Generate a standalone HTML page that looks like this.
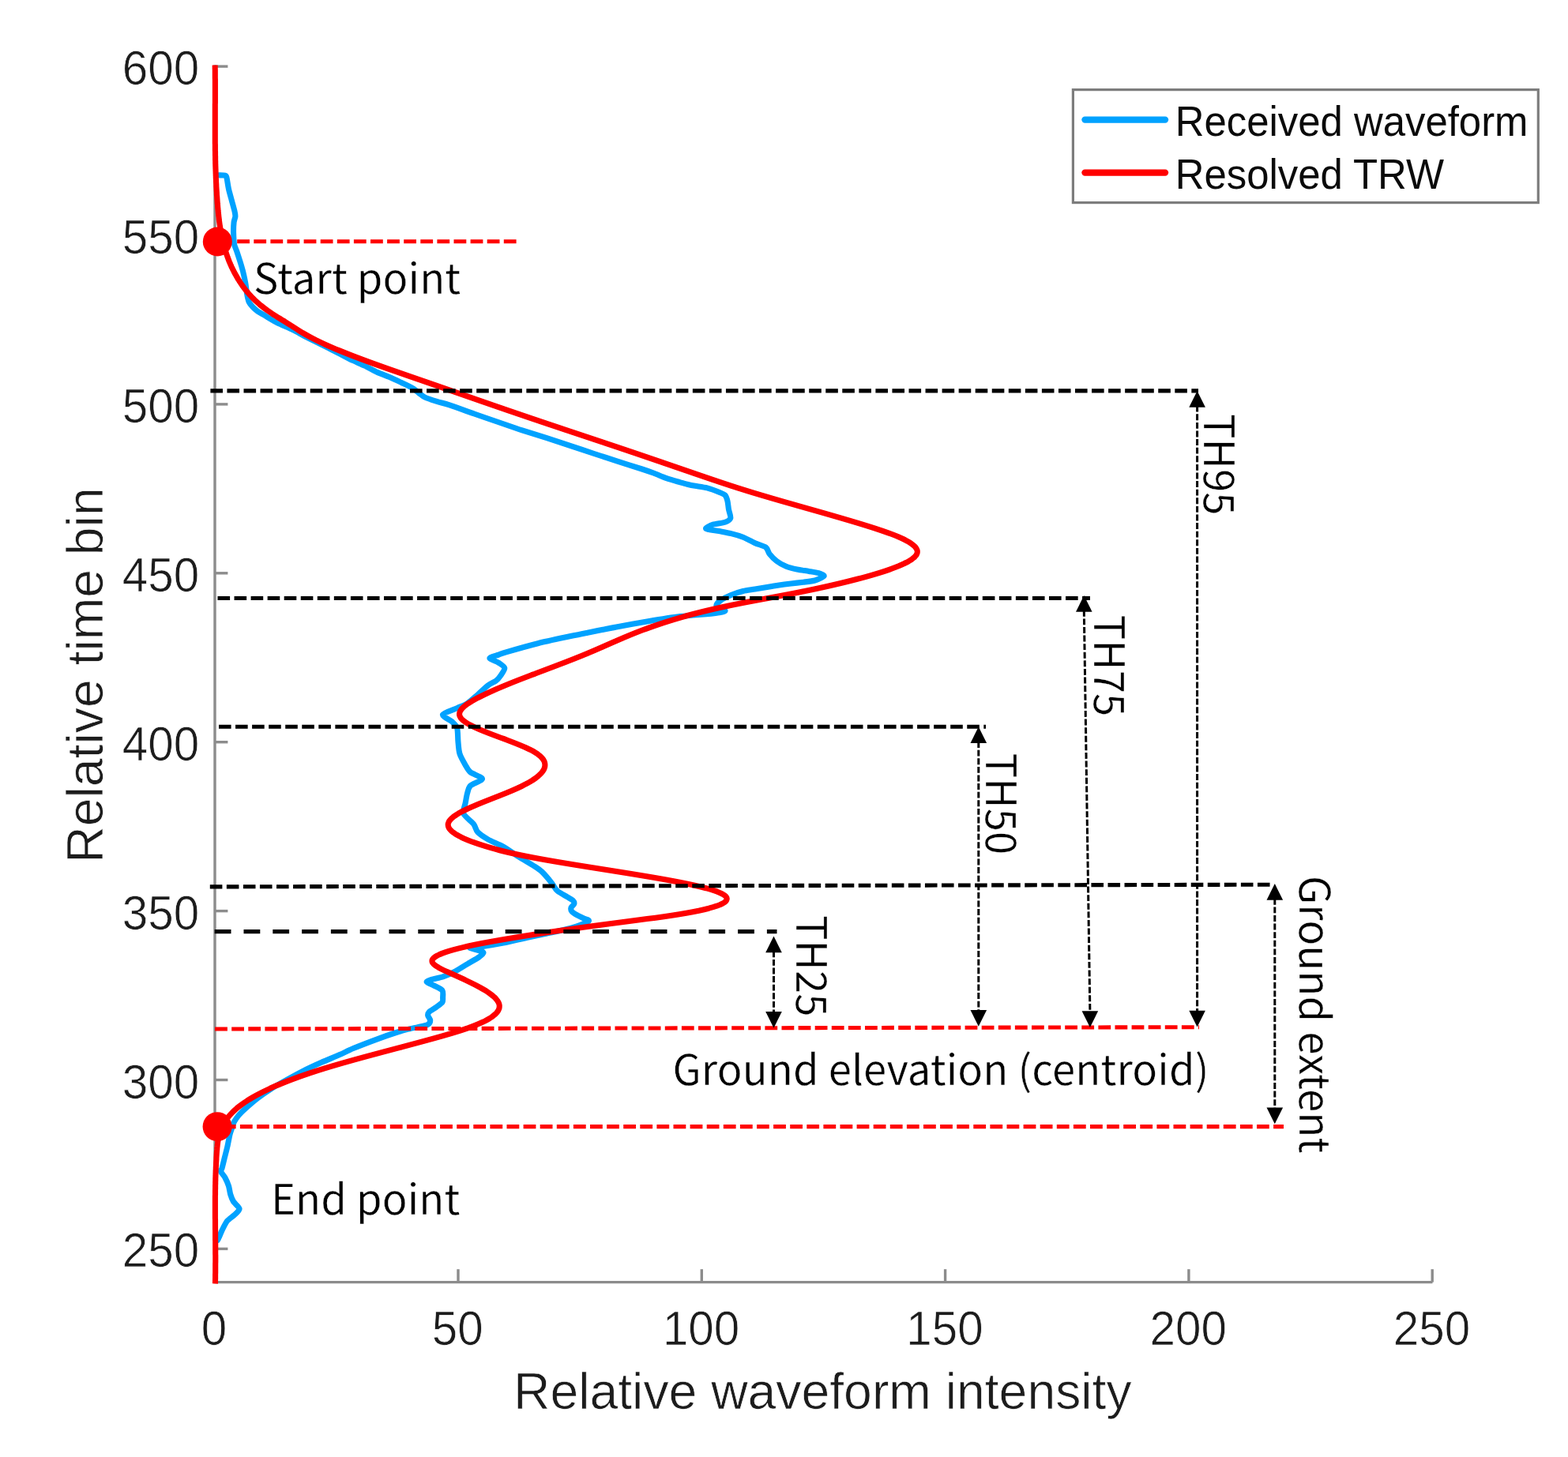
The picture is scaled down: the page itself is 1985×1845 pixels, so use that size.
<!DOCTYPE html>
<html lang="en"><head><meta charset="utf-8"><title>Waveform metrics</title>
<style>
html,body{margin:0;padding:0;background:#fff;}
body{width:1985px;height:1845px;overflow:hidden;}
svg{display:block;}
.tick{font-family:"Liberation Sans",sans-serif;font-size:58.4px;fill:#1c1c1c;stroke:#fff;stroke-width:0.7px;}
.axl{font-family:"Liberation Sans",sans-serif;font-size:64.3px;fill:#1c1c1c;stroke:#fff;stroke-width:0.7px;}
.leg{font-family:"Liberation Sans",sans-serif;font-size:50.9px;fill:#0a0a0a;}
.ann{font-family:"Noto Sans CJK SC","Liberation Sans",sans-serif;font-size:52.6px;fill:#000000;letter-spacing:0.12px;stroke:#fff;stroke-width:0.4px;}
</style></head><body>
<svg width="1985" height="1845" viewBox="0 0 1985 1845">
<rect x="0" y="0" width="1985" height="1845" fill="#ffffff"/>
<g stroke="#8c8c8c" stroke-width="3.4" fill="none" stroke-linecap="butt">
<path d="M272.00 82.20V1623.60H1813.50"/>
<path d="M272.00 84.10h16.40"/>
<path d="M272.00 298.00h16.40"/>
<path d="M272.00 511.90h16.40"/>
<path d="M272.00 725.80h16.40"/>
<path d="M272.00 939.70h16.40"/>
<path d="M272.00 1153.60h16.40"/>
<path d="M272.00 1367.50h16.40"/>
<path d="M272.00 1581.40h16.40"/>
<path d="M580.00 1623.60v-16.40"/>
<path d="M888.30 1623.60v-16.40"/>
<path d="M1196.60 1623.60v-16.40"/>
<path d="M1504.90 1623.60v-16.40"/>
<path d="M1813.20 1623.60v-16.40"/>
</g>
<g class="tick">
<text transform="translate(252.2 107.1) scale(1 1.045)" text-anchor="end">600</text>
<text transform="translate(252.2 321.0) scale(1 1.045)" text-anchor="end">550</text>
<text transform="translate(252.2 534.9) scale(1 1.045)" text-anchor="end">500</text>
<text transform="translate(252.2 748.8) scale(1 1.045)" text-anchor="end">450</text>
<text transform="translate(252.2 962.7) scale(1 1.045)" text-anchor="end">400</text>
<text transform="translate(252.2 1176.6) scale(1 1.045)" text-anchor="end">350</text>
<text transform="translate(252.2 1390.5) scale(1 1.045)" text-anchor="end">300</text>
<text transform="translate(252.2 1604.4) scale(1 1.045)" text-anchor="end">250</text>
<text transform="translate(271.0 1702.6) scale(1 1.045)" text-anchor="middle">0</text>
<text transform="translate(579.3 1702.6) scale(1 1.045)" text-anchor="middle">50</text>
<text transform="translate(887.6 1702.6) scale(1 1.045)" text-anchor="middle">100</text>
<text transform="translate(1195.9 1702.6) scale(1 1.045)" text-anchor="middle">150</text>
<text transform="translate(1504.2 1702.6) scale(1 1.045)" text-anchor="middle">200</text>
<text transform="translate(1812.5 1702.6) scale(1 1.045)" text-anchor="middle">250</text>
</g>
<text class="axl" x="1041.3" y="1784.4" text-anchor="middle">Relative waveform intensity</text>
<text class="axl" transform="translate(130.4 855.0) rotate(-90)" text-anchor="middle">Relative time bin</text>
<path d="M276.5 221.8C277.6 221.9 283.6 221.8 285.0 222.2C286.4 222.6 286.3 222.2 286.9 224.6C287.5 227.0 288.7 236.0 289.6 239.9C290.5 243.8 292.3 250.0 293.3 253.7C294.3 257.4 296.4 264.8 297.0 267.5C297.6 270.2 298.0 272.2 297.9 274.0C297.8 275.8 296.4 278.5 296.1 281.3C295.8 284.1 295.5 291.5 295.6 295.2C295.7 298.9 296.0 305.9 296.5 309.0C297.0 312.1 298.5 314.6 299.7 318.2C300.9 321.8 304.3 332.3 305.5 336.3C306.7 340.3 308.0 345.2 308.7 348.4C309.4 351.6 310.6 357.3 311.1 360.5C311.6 363.7 312.2 369.6 312.7 372.5C313.2 375.4 314.1 380.0 315.1 382.2C316.1 384.4 318.5 387.1 320.0 388.7C321.5 390.3 324.5 392.9 326.4 394.3C328.3 395.7 332.4 397.8 334.5 399.1C336.6 400.4 340.2 402.6 342.5 404.0C344.8 405.4 348.2 407.5 352.0 409.3C355.8 411.1 366.4 415.5 371.0 417.7C375.6 419.9 382.1 423.9 386.2 426.0C390.3 428.1 397.3 431.6 401.4 433.6C405.5 435.6 412.6 439.2 416.6 441.2C420.6 443.2 427.7 446.7 431.7 448.8C435.7 450.9 442.8 454.7 446.9 456.6C451.0 458.5 458.0 461.4 462.1 463.4C466.2 465.4 473.3 469.4 477.3 471.3C481.3 473.2 488.4 475.6 492.4 477.3C496.4 479.0 503.5 482.3 507.6 484.2C511.7 486.1 519.8 489.9 522.8 491.7C525.8 493.5 528.4 496.3 530.4 497.8C532.4 499.3 535.0 501.7 538.0 503.1C541.0 504.5 549.0 507.1 553.1 508.4C557.2 509.7 562.7 510.8 569.0 512.9C575.3 515.0 592.1 521.1 600.3 524.0C608.5 526.9 622.6 531.7 630.7 534.5C638.8 537.3 652.9 542.3 661.0 544.9C669.1 547.5 683.3 551.7 691.4 554.3C699.5 556.9 713.6 561.7 721.7 564.4C729.8 567.1 744.0 571.8 752.1 574.5C760.2 577.2 774.3 581.7 782.4 584.3C790.5 586.9 806.7 592.0 812.8 594.0C818.9 596.0 824.0 597.8 828.0 599.3C832.0 600.8 839.1 604.0 843.1 605.4C847.1 606.8 854.7 609.0 858.3 610.0C861.9 611.0 867.1 612.5 870.0 613.2C872.9 613.9 876.6 614.7 880.0 615.3C883.4 615.9 891.2 616.8 895.2 617.9C899.2 619.0 907.3 622.0 910.3 623.2C913.3 624.4 916.5 625.5 917.9 627.0C919.3 628.5 920.4 632.2 921.0 634.6C921.6 637.0 922.0 642.4 922.5 645.2C923.0 648.0 925.4 653.8 924.8 655.9C924.2 658.0 920.8 660.1 917.9 661.2C915.0 662.3 906.0 663.1 902.8 664.2C899.6 665.3 892.7 668.4 893.7 669.5C894.7 670.6 906.1 671.8 910.3 672.6C914.5 673.4 921.4 674.6 925.5 675.6C929.6 676.6 936.6 678.6 940.7 680.2C944.8 681.8 952.1 686.0 955.9 687.7C959.7 689.4 967.1 691.3 969.5 693.1C971.9 694.9 972.3 699.1 974.1 701.4C975.9 703.7 980.4 708.4 983.2 710.5C986.0 712.6 991.9 715.9 995.3 717.3C998.7 718.7 1005.1 720.3 1009.0 721.1C1012.9 721.9 1020.6 722.8 1024.2 723.4C1027.8 724.0 1033.8 724.9 1036.3 725.7C1038.8 726.5 1043.7 728.3 1043.1 729.5C1042.5 730.7 1035.2 734.0 1031.7 735.0C1028.2 736.0 1020.6 736.7 1016.6 737.2C1012.6 737.7 1005.5 738.5 1001.4 739.0C997.3 739.5 990.3 740.4 986.2 741.0C982.1 741.6 975.0 742.8 971.0 743.5C967.0 744.2 959.9 745.3 955.9 746.0C951.9 746.7 944.8 747.5 940.7 748.5C936.6 749.5 929.3 751.9 925.5 753.5C921.7 755.1 914.5 758.7 912.0 760.5C909.5 762.3 906.2 765.3 907.0 767.0C907.8 768.7 917.6 772.1 918.0 773.3C918.4 774.5 912.7 775.3 910.3 775.8C907.9 776.3 906.6 776.6 900.0 777.2C893.4 777.8 871.5 779.3 860.9 780.6C850.3 781.9 831.3 785.0 820.6 786.8C809.9 788.6 791.0 792.0 780.3 794.0C769.6 796.0 747.9 800.5 740.0 802.1C732.1 803.7 729.1 804.1 721.2 805.8C713.3 807.5 691.6 812.0 680.9 814.7C670.2 817.4 647.2 823.9 640.6 825.8C634.0 827.7 634.0 828.1 631.2 829.1C628.4 830.1 619.9 832.1 619.9 833.4C619.9 834.7 628.7 837.5 631.2 839.2C633.7 840.9 638.5 843.8 638.8 846.0C639.1 848.2 635.1 853.5 633.7 855.6C632.3 857.7 630.1 860.4 628.0 862.0C625.9 863.6 621.0 865.6 617.9 867.9C614.8 870.2 608.3 876.6 604.8 879.6C601.3 882.6 595.2 888.4 591.7 890.7C588.2 893.0 582.8 894.8 578.6 896.7C574.4 898.6 561.4 902.6 560.5 904.9C559.6 907.2 569.6 911.5 572.0 913.7C574.4 915.9 577.5 918.3 578.6 921.6C579.7 924.9 579.5 934.2 579.9 938.6C580.3 943.0 580.7 950.3 581.9 954.3C583.1 958.3 587.3 965.6 589.1 968.7C590.9 971.8 592.7 975.6 595.6 977.9C598.5 980.2 610.5 983.9 610.5 986.2C610.5 988.5 598.1 992.5 595.6 994.9C593.1 997.3 592.6 1001.1 591.7 1004.1C590.8 1007.1 589.8 1013.7 589.1 1017.2C588.4 1020.7 585.4 1026.8 586.8 1030.3C588.2 1033.8 597.1 1040.3 599.5 1043.4C601.9 1046.5 602.3 1051.2 604.8 1053.8C607.3 1056.4 613.5 1060.5 617.9 1063.0C622.3 1065.5 632.3 1069.2 637.5 1072.2C642.7 1075.2 652.2 1082.1 657.2 1085.3C662.2 1088.5 671.4 1093.6 675.2 1096.1C679.0 1098.6 682.8 1100.9 685.8 1103.7C688.8 1106.5 695.3 1114.2 697.9 1117.4C700.5 1120.6 702.9 1125.6 705.5 1128.0C708.1 1130.4 715.1 1134.0 717.7 1135.6C720.3 1137.2 724.1 1139.0 725.3 1140.2C726.5 1141.4 727.1 1143.5 726.8 1144.7C726.5 1145.9 723.4 1148.1 723.0 1149.3C722.6 1150.5 722.8 1152.6 723.7 1153.8C724.6 1155.0 727.8 1157.2 729.8 1158.4C731.8 1159.6 736.9 1161.8 738.9 1162.9C740.9 1164.0 747.3 1165.0 745.0 1166.7C742.7 1168.4 729.3 1173.4 722.0 1175.5C714.7 1177.6 697.3 1180.9 690.0 1182.5C682.7 1184.1 674.6 1185.8 667.6 1187.3C660.6 1188.8 645.4 1192.5 637.3 1194.1C629.2 1195.7 612.6 1198.4 606.9 1199.2C601.2 1200.0 594.2 1199.6 594.8 1200.4C595.4 1201.2 609.9 1204.0 611.5 1205.5C613.1 1207.0 609.5 1209.6 606.9 1211.6C604.3 1213.6 595.7 1218.3 591.7 1220.7C587.7 1223.1 580.6 1227.7 576.6 1229.8C572.6 1231.9 565.5 1235.2 561.4 1236.6C557.3 1238.0 549.0 1239.5 546.2 1240.4C543.4 1241.3 539.8 1242.5 540.2 1243.5C540.6 1244.5 546.7 1246.6 549.3 1248.0C551.9 1249.4 558.4 1252.1 559.9 1254.1C561.4 1256.1 560.6 1261.2 560.6 1263.2C560.6 1265.2 561.0 1267.7 559.9 1269.3C558.8 1270.9 554.5 1273.7 552.3 1275.3C550.1 1276.9 544.6 1280.0 543.2 1281.4C541.8 1282.8 541.5 1284.6 541.7 1286.0C541.9 1287.4 544.7 1290.5 544.7 1292.0C544.7 1293.5 543.8 1296.2 541.7 1297.3C539.6 1298.4 532.6 1299.8 529.0 1300.6C525.4 1301.4 518.9 1302.6 515.0 1303.6C511.1 1304.6 505.0 1306.4 500.0 1308.0C495.0 1309.6 484.6 1313.2 477.6 1315.8C470.6 1318.4 453.6 1324.9 447.3 1327.5C441.0 1330.1 435.4 1333.2 430.0 1335.6C424.6 1338.0 413.3 1342.5 407.0 1345.3C400.7 1348.1 389.2 1353.4 382.9 1356.6C376.6 1359.8 365.4 1366.0 360.0 1369.0C354.6 1372.0 347.0 1376.3 342.5 1379.2C338.0 1382.1 330.7 1387.2 326.4 1390.5C322.1 1393.8 313.5 1401.3 310.3 1404.2C307.1 1407.1 304.0 1410.1 302.2 1412.2C300.4 1414.3 297.7 1418.4 296.6 1420.3C295.5 1422.2 294.9 1424.5 294.2 1426.7C293.5 1428.9 291.8 1433.3 291.0 1436.6C290.2 1439.9 288.8 1447.7 287.9 1451.7C287.0 1455.7 285.0 1463.2 284.1 1466.9C283.2 1470.6 281.7 1476.9 281.1 1479.1C280.5 1481.3 279.1 1482.0 279.6 1483.6C280.1 1485.2 283.6 1488.8 284.9 1491.2C286.2 1493.6 288.6 1499.0 289.5 1501.8C290.4 1504.6 290.9 1509.8 291.7 1512.4C292.5 1515.0 294.0 1519.1 295.5 1521.5C297.0 1523.9 302.9 1528.5 303.1 1530.7C303.3 1532.9 299.0 1536.2 297.0 1538.2C295.0 1540.2 289.8 1543.6 287.9 1545.8C286.0 1548.0 283.7 1552.8 282.6 1554.9C281.5 1557.0 280.2 1559.9 279.5 1561.5C278.8 1563.1 277.7 1565.8 277.2 1567.0C276.7 1568.2 275.7 1570.0 275.5 1570.5" fill="none" stroke="#00a2ff" stroke-width="7.1" stroke-linejoin="round" stroke-linecap="round"/>
<path d="M272.2 82.5L272.2 84.0L272.2 85.5L272.2 87.0L272.3 88.5L272.3 90.0L272.3 91.5L272.3 93.0L272.3 94.5L272.3 96.0L272.3 97.5L272.3 99.0L272.4 100.5L272.4 102.0L272.4 103.5L272.4 105.0L272.4 106.5L272.4 108.0L272.4 109.5L272.4 111.0L272.4 112.5L272.4 114.0L272.4 115.5L272.4 117.0L272.4 118.5L272.4 120.0L272.4 121.5L272.4 123.0L272.4 124.5L272.4 126.0L272.4 127.5L272.4 129.0L272.4 130.5L272.3 132.0L272.3 133.5L272.3 135.0L272.3 136.5L272.3 138.0L272.3 139.5L272.3 141.0L272.3 142.5L272.3 144.0L272.3 145.5L272.3 147.0L272.3 148.5L272.3 150.0L272.3 151.5L272.3 153.0L272.3 154.5L272.3 156.0L272.3 157.5L272.3 159.0L272.3 160.5L272.3 162.0L272.3 163.5L272.3 165.0L272.3 166.5L272.3 168.0L272.3 169.5L272.3 171.0L272.3 172.5L272.3 174.0L272.3 175.5L272.3 177.0L272.3 178.5L272.3 180.0L272.3 181.5L272.4 183.0L272.4 184.5L272.4 186.0L272.4 187.5L272.4 189.0L272.4 190.5L272.5 192.0L272.5 193.5L272.5 195.0L272.5 196.5L272.6 198.0L272.6 199.5L272.6 201.0L272.6 202.5L272.7 204.0L272.7 205.5L272.7 207.0L272.8 208.5L272.8 210.0L272.9 211.5L272.9 213.0L273.0 214.5L273.0 216.0L273.1 217.5L273.1 219.0L273.2 220.5L273.2 222.0L273.3 223.5L273.3 225.0L273.4 226.5L273.5 228.0L273.5 229.5L273.6 231.0L273.7 232.5L273.8 234.0L273.8 235.5L273.9 236.9L274.0 238.4L274.1 239.9L274.2 241.4L274.3 242.9L274.4 244.4L274.4 245.9L274.5 247.4L274.7 248.9L274.8 250.4L274.9 251.9L275.0 253.4L275.1 254.9L275.2 256.4L275.3 257.9L275.5 259.4L275.6 260.9L275.7 262.4L275.8 263.9L276.0 265.4L276.1 266.9L276.3 268.4L276.4 269.9L276.6 271.4L276.7 272.9L276.9 274.4L277.1 275.9L277.2 277.4L277.4 278.9L277.6 280.4L277.8 281.9L278.0 283.4L278.2 284.9L278.5 286.4L278.7 287.9L278.9 289.4L279.2 290.9L279.4 292.4L279.7 293.9L280.0 295.4L280.2 296.9L280.5 298.4L280.8 299.9L281.2 301.4L281.5 302.9L281.8 304.4L282.2 305.9L282.6 307.4L282.9 308.9L283.3 310.4L283.7 311.9L284.1 313.4L284.6 314.9L285.0 316.4L285.5 317.9L286.0 319.4L286.4 320.9L287.0 322.4L287.5 323.9L288.0 325.4L288.6 326.9L289.1 328.4L289.7 329.9L290.3 331.4L291.0 332.9L291.6 334.4L292.3 335.9L292.9 337.4L293.6 338.9L294.4 340.4L295.1 341.9L295.9 343.4L296.6 344.9L297.4 346.4L298.3 347.9L299.1 349.4L300.0 350.9L300.8 352.4L301.7 353.9L302.7 355.4L303.6 356.9L304.6 358.4L305.6 359.9L306.6 361.4L307.7 362.9L308.8 364.4L309.9 365.9L311.1 367.4L312.3 368.9L313.6 370.4L314.8 371.9L316.2 373.4L317.6 374.9L319.0 376.4L320.4 377.9L322.0 379.4L323.5 380.9L325.2 382.4L326.9 383.9L328.6 385.4L330.4 386.9L332.3 388.4L334.2 389.9L336.2 391.4L338.2 392.9L340.4 394.4L342.6 395.9L344.8 397.4L347.2 398.9L349.5 400.4L351.9 401.9L354.4 403.4L356.8 404.9L359.3 406.4L361.7 407.9L364.1 409.4L366.5 410.9L368.8 412.4L371.2 413.9L373.5 415.4L375.8 416.9L378.2 418.4L380.6 419.9L383.0 421.4L385.6 422.9L388.2 424.4L390.9 425.9L393.7 427.4L396.6 428.9L399.5 430.4L402.6 431.9L405.7 433.4L408.9 434.9L412.2 436.4L415.6 437.9L419.0 439.4L422.5 440.9L426.0 442.4L429.6 443.9L433.3 445.4L437.0 446.9L440.8 448.4L444.6 449.9L448.5 451.4L452.5 452.9L456.4 454.4L460.5 455.9L464.5 457.4L468.6 458.9L472.7 460.4L476.9 461.9L481.1 463.4L485.3 464.9L489.5 466.4L493.8 467.9L498.1 469.4L502.4 470.9L506.7 472.4L511.0 473.9L515.3 475.4L519.6 476.9L524.0 478.4L528.3 479.9L532.7 481.4L537.0 482.9L541.3 484.4L545.7 485.9L550.0 487.4L554.3 488.9L558.6 490.4L562.9 491.9L567.2 493.4L571.5 494.9L575.9 496.4L580.2 497.9L584.5 499.4L588.8 500.9L593.1 502.4L597.4 503.9L601.7 505.4L606.0 506.9L610.3 508.4L614.7 509.9L619.0 511.4L623.3 512.9L627.7 514.4L632.0 515.9L636.4 517.4L640.7 518.9L645.1 520.4L649.5 521.9L653.9 523.4L658.3 524.9L662.7 526.4L667.1 527.9L671.5 529.4L675.9 530.9L680.4 532.4L684.8 533.9L689.3 535.4L693.7 536.9L698.2 538.4L702.7 539.9L707.2 541.4L711.6 542.9L716.1 544.4L720.6 545.8L725.1 547.3L729.6 548.8L734.1 550.3L738.6 551.8L743.1 553.3L747.6 554.8L752.1 556.3L756.6 557.8L761.1 559.3L765.5 560.8L770.0 562.3L774.5 563.8L779.0 565.3L783.5 566.8L787.9 568.3L792.4 569.8L796.8 571.3L801.3 572.8L805.7 574.3L810.1 575.8L814.5 577.3L818.9 578.8L823.3 580.3L827.7 581.8L832.1 583.3L836.5 584.8L840.8 586.3L845.2 587.8L849.6 589.3L853.9 590.8L858.3 592.3L862.7 593.8L867.0 595.3L871.4 596.8L875.8 598.3L880.1 599.8L884.5 601.3L888.9 602.8L893.3 604.3L897.7 605.8L902.1 607.3L906.6 608.8L911.0 610.3L915.5 611.8L920.1 613.3L924.6 614.8L929.3 616.3L933.9 617.8L938.7 619.3L943.5 620.8L948.3 622.3L953.2 623.8L958.2 625.3L963.2 626.8L968.3 628.3L973.4 629.8L978.5 631.3L983.7 632.8L988.9 634.3L994.1 635.8L999.4 637.3L1004.7 638.8L1009.9 640.3L1015.2 641.8L1020.5 643.3L1025.8 644.8L1031.1 646.3L1036.4 647.8L1041.7 649.3L1046.9 650.8L1052.1 652.3L1057.3 653.8L1062.5 655.3L1067.6 656.8L1072.7 658.3L1077.8 659.8L1082.8 661.3L1087.8 662.8L1092.7 664.3L1097.5 665.8L1102.3 667.3L1107.0 668.8L1111.5 670.3L1116.0 671.8L1120.3 673.3L1124.5 674.8L1128.5 676.3L1132.4 677.8L1136.1 679.3L1139.5 680.8L1142.8 682.3L1145.9 683.8L1148.7 685.3L1151.2 686.8L1153.5 688.3L1155.6 689.8L1157.3 691.3L1158.8 692.8L1159.9 694.3L1160.7 695.8L1161.2 697.3L1161.3 698.8L1161.1 700.3L1160.5 701.8L1159.6 703.3L1158.3 704.8L1156.7 706.3L1154.8 707.8L1152.7 709.3L1150.2 710.8L1147.4 712.3L1144.4 713.8L1141.1 715.3L1137.6 716.8L1133.8 718.3L1129.8 719.8L1125.6 721.3L1121.2 722.8L1116.6 724.3L1111.7 725.8L1106.7 727.3L1101.6 728.8L1096.3 730.3L1090.8 731.8L1085.2 733.3L1079.4 734.8L1073.5 736.3L1067.4 737.8L1061.1 739.3L1054.7 740.8L1048.2 742.3L1041.4 743.8L1034.5 745.3L1027.5 746.8L1020.2 748.3L1012.8 749.8L1005.2 751.3L997.5 752.8L989.5 754.3L981.5 755.8L973.4 757.3L965.2 758.8L957.2 760.3L949.2 761.8L941.3 763.3L933.7 764.8L926.3 766.3L919.2 767.8L912.2 769.3L905.5 770.8L899.0 772.3L892.7 773.8L886.6 775.3L880.7 776.8L874.9 778.3L869.3 779.8L863.9 781.3L858.7 782.8L853.6 784.3L848.7 785.8L843.9 787.3L839.2 788.8L834.7 790.3L830.3 791.8L826.0 793.3L821.8 794.8L817.7 796.3L813.7 797.8L809.8 799.3L806.0 800.8L802.2 802.3L798.5 803.8L794.9 805.3L791.3 806.8L787.8 808.3L784.3 809.8L780.8 811.3L777.4 812.8L773.9 814.3L770.5 815.8L767.1 817.3L763.7 818.8L760.3 820.3L756.8 821.8L753.4 823.3L749.9 824.8L746.3 826.3L742.8 827.8L739.1 829.3L735.5 830.8L731.7 832.3L728.0 833.8L724.2 835.3L720.3 836.8L716.5 838.3L712.6 839.8L708.6 841.3L704.7 842.8L700.8 844.3L696.8 845.8L692.8 847.3L688.9 848.8L684.9 850.3L680.9 851.8L677.0 853.3L673.0 854.7L669.1 856.2L665.2 857.7L661.3 859.2L657.4 860.7L653.6 862.2L649.8 863.7L646.1 865.2L642.4 866.7L638.8 868.2L635.2 869.7L631.6 871.2L628.1 872.7L624.7 874.2L621.4 875.7L618.1 877.2L614.9 878.7L611.8 880.2L608.8 881.7L605.8 883.2L603.0 884.7L600.3 886.2L597.6 887.7L595.2 889.2L592.8 890.7L590.7 892.2L588.7 893.7L587.0 895.2L585.4 896.7L584.1 898.2L583.1 899.7L582.3 901.2L581.8 902.7L581.6 904.2L581.7 905.7L582.2 907.2L583.0 908.7L584.2 910.2L585.7 911.7L587.5 913.2L589.6 914.7L592.0 916.2L594.6 917.7L597.5 919.2L600.5 920.7L603.8 922.2L607.2 923.7L610.8 925.2L614.5 926.7L618.3 928.2L622.2 929.7L626.1 931.2L630.1 932.7L634.1 934.2L638.2 935.7L642.2 937.2L646.1 938.7L650.0 940.2L653.8 941.7L657.5 943.2L661.1 944.7L664.6 946.2L667.8 947.7L670.9 949.2L673.8 950.7L676.5 952.2L678.9 953.7L681.0 955.2L682.9 956.7L684.6 958.2L686.1 959.7L687.3 961.2L688.2 962.7L689.0 964.2L689.5 965.7L689.8 967.2L689.9 968.7L689.8 970.2L689.5 971.7L689.0 973.2L688.3 974.7L687.4 976.2L686.3 977.7L685.0 979.2L683.6 980.7L681.9 982.2L680.1 983.7L678.2 985.2L676.0 986.7L673.8 988.2L671.3 989.7L668.7 991.2L666.0 992.7L663.1 994.2L660.1 995.7L656.9 997.2L653.6 998.7L650.2 1000.2L646.7 1001.7L643.1 1003.2L639.5 1004.7L635.7 1006.2L632.0 1007.7L628.1 1009.2L624.3 1010.7L620.5 1012.2L616.7 1013.7L612.9 1015.2L609.2 1016.7L605.5 1018.2L602.0 1019.7L598.5 1021.2L595.1 1022.7L591.8 1024.2L588.7 1025.7L585.7 1027.2L582.9 1028.7L580.2 1030.2L577.8 1031.7L575.6 1033.2L573.6 1034.7L571.8 1036.2L570.3 1037.7L569.1 1039.2L568.2 1040.7L567.6 1042.2L567.2 1043.7L567.3 1045.2L567.6 1046.7L568.2 1048.2L569.2 1049.7L570.5 1051.2L572.0 1052.7L573.9 1054.2L576.0 1055.7L578.4 1057.2L581.1 1058.7L584.0 1060.2L587.2 1061.7L590.7 1063.2L594.4 1064.7L598.3 1066.2L602.5 1067.7L606.9 1069.2L611.6 1070.7L616.4 1072.2L621.5 1073.7L626.9 1075.2L632.6 1076.7L638.6 1078.2L644.9 1079.7L651.6 1081.2L658.6 1082.7L666.0 1084.2L673.7 1085.7L681.7 1087.2L690.0 1088.7L698.6 1090.2L707.4 1091.7L716.4 1093.2L725.5 1094.7L734.8 1096.2L744.1 1097.7L753.6 1099.2L763.0 1100.7L772.5 1102.2L781.9 1103.7L791.3 1105.2L800.6 1106.7L809.7 1108.2L818.7 1109.7L827.6 1111.2L836.2 1112.7L844.6 1114.2L852.7 1115.7L860.5 1117.2L867.9 1118.7L875.0 1120.2L881.7 1121.7L888.0 1123.2L893.8 1124.7L899.1 1126.2L903.8 1127.7L908.1 1129.2L911.7 1130.7L914.8 1132.2L917.2 1133.7L918.9 1135.2L919.9 1136.7L920.2 1138.2L919.8 1139.7L918.8 1141.2L917.0 1142.7L914.5 1144.2L911.3 1145.7L907.4 1147.2L902.7 1148.7L897.4 1150.2L891.3 1151.7L884.6 1153.2L877.0 1154.7L868.8 1156.2L859.9 1157.7L850.4 1159.2L840.4 1160.7L829.9 1162.2L819.1 1163.6L808.0 1165.1L796.7 1166.6L785.3 1168.1L773.8 1169.6L762.4 1171.1L751.2 1172.6L740.1 1174.1L729.3 1175.6L718.7 1177.1L708.3 1178.6L698.1 1180.1L688.1 1181.6L678.3 1183.1L668.7 1184.6L659.3 1186.1L650.1 1187.6L641.1 1189.1L632.3 1190.6L623.8 1192.1L615.5 1193.6L607.6 1195.1L600.1 1196.6L592.9 1198.1L586.2 1199.6L580.0 1201.1L574.3 1202.6L569.0 1204.1L564.3 1205.6L560.1 1207.1L556.5 1208.6L553.4 1210.1L550.9 1211.6L549.0 1213.1L547.7 1214.6L547.0 1216.1L547.0 1217.6L547.6 1219.1L548.8 1220.6L550.5 1222.1L552.6 1223.6L555.0 1225.1L557.8 1226.6L560.8 1228.1L564.0 1229.6L567.3 1231.1L570.6 1232.6L573.9 1234.1L577.2 1235.6L580.5 1237.1L583.8 1238.6L587.1 1240.1L590.3 1241.6L593.4 1243.1L596.5 1244.6L599.5 1246.1L602.5 1247.6L605.3 1249.1L608.1 1250.6L610.7 1252.1L613.3 1253.6L615.7 1255.1L618.0 1256.6L620.1 1258.1L622.1 1259.6L624.0 1261.1L625.7 1262.6L627.2 1264.1L628.5 1265.6L629.7 1267.1L630.6 1268.6L631.4 1270.1L631.9 1271.6L632.2 1273.1L632.2 1274.6L632.1 1276.1L631.7 1277.6L631.0 1279.1L630.1 1280.6L629.0 1282.1L627.6 1283.6L626.0 1285.1L624.2 1286.6L622.1 1288.1L619.8 1289.6L617.2 1291.1L614.5 1292.6L611.5 1294.1L608.2 1295.6L604.7 1297.1L601.0 1298.6L597.1 1300.1L593.0 1301.6L588.6 1303.1L584.1 1304.6L579.4 1306.1L574.5 1307.6L569.5 1309.1L564.3 1310.6L559.1 1312.1L553.8 1313.6L548.4 1315.1L542.9 1316.6L537.4 1318.1L531.9 1319.6L526.3 1321.1L520.7 1322.6L515.1 1324.1L509.5 1325.6L503.8 1327.1L498.1 1328.6L492.5 1330.1L486.8 1331.6L481.2 1333.1L475.6 1334.6L470.0 1336.1L464.4 1337.6L458.9 1339.1L453.4 1340.6L448.0 1342.1L442.6 1343.6L437.3 1345.1L432.0 1346.6L426.8 1348.1L421.7 1349.6L416.7 1351.1L411.7 1352.6L406.9 1354.1L402.1 1355.6L397.5 1357.1L392.9 1358.6L388.5 1360.1L384.1 1361.6L379.8 1363.1L375.7 1364.6L371.6 1366.1L367.6 1367.6L363.7 1369.1L359.9 1370.6L356.2 1372.1L352.6 1373.6L349.1 1375.1L345.7 1376.6L342.3 1378.1L339.1 1379.6L336.0 1381.1L332.9 1382.6L330.0 1384.1L327.1 1385.6L324.3 1387.1L321.6 1388.6L319.0 1390.1L316.5 1391.6L314.1 1393.1L311.8 1394.6L309.5 1396.1L307.4 1397.6L305.3 1399.1L303.3 1400.6L301.4 1402.1L299.6 1403.6L297.9 1405.1L296.3 1406.6L294.7 1408.1L293.3 1409.6L291.9 1411.1L290.5 1412.6L289.3 1414.1L288.1 1415.6L287.0 1417.1L286.0 1418.6L285.0 1420.1L284.0 1421.6L283.2 1423.1L282.4 1424.6L281.6 1426.1L280.9 1427.6L280.3 1429.1L279.7 1430.6L279.1 1432.1L278.6 1433.6L278.1 1435.1L277.7 1436.6L277.3 1438.1L277.0 1439.6L276.6 1441.1L276.3 1442.6L276.1 1444.1L275.8 1445.6L275.6 1447.1L275.4 1448.6L275.2 1450.1L275.1 1451.6L274.9 1453.1L274.8 1454.6L274.7 1456.1L274.5 1457.6L274.4 1459.1L274.3 1460.6L274.2 1462.1L274.1 1463.6L274.0 1465.1L273.9 1466.6L273.9 1468.1L273.8 1469.6L273.7 1471.1L273.6 1472.5L273.5 1474.0L273.5 1475.5L273.4 1477.0L273.3 1478.5L273.3 1480.0L273.2 1481.5L273.1 1483.0L273.1 1484.5L273.0 1486.0L273.0 1487.5L272.9 1489.0L272.9 1490.5L272.8 1492.0L272.8 1493.5L272.8 1495.0L272.7 1496.5L272.7 1498.0L272.7 1499.5L272.6 1501.0L272.6 1502.5L272.6 1504.0L272.6 1505.5L272.5 1507.0L272.5 1508.5L272.5 1510.0L272.5 1511.5L272.5 1513.0L272.4 1514.5L272.4 1516.0L272.4 1517.5L272.4 1519.0L272.4 1520.5L272.4 1522.0L272.4 1523.5L272.4 1525.0L272.4 1526.5L272.4 1528.0L272.4 1529.5L272.4 1531.0L272.4 1532.5L272.4 1534.0L272.4 1535.5L272.4 1537.0L272.4 1538.5L272.4 1540.0L272.4 1541.5L272.4 1543.0L272.5 1544.5L272.5 1546.0L272.5 1547.5L272.5 1549.0L272.5 1550.5L272.5 1552.0L272.5 1553.5L272.5 1555.0L272.5 1556.5L272.6 1558.0L272.6 1559.5L272.6 1561.0L272.6 1562.5L272.6 1564.0L272.6 1565.5L272.6 1567.0L272.6 1568.5L272.6 1570.0L272.7 1571.5L272.7 1573.0L272.7 1574.5L272.7 1576.0L272.7 1577.5L272.7 1579.0L272.7 1580.5L272.7 1582.0L272.7 1583.5L272.7 1585.0L272.7 1586.5L272.7 1588.0L272.8 1589.5L272.8 1591.0L272.8 1592.5L272.8 1594.0L272.8 1595.5L272.8 1597.0L272.8 1598.5L272.7 1600.0L272.7 1601.5L272.7 1603.0L272.7 1604.5L272.7 1606.0L272.7 1607.5L272.7 1609.0L272.7 1610.5L272.7 1612.0L272.6 1613.5L272.6 1615.0L272.6 1616.5L272.6 1618.0L272.6 1619.5L272.5 1621.0L272.5 1622.5L272.5 1624.0L272.4 1625.5" fill="none" stroke="#ff0000" stroke-width="7.1" stroke-linejoin="round" stroke-linecap="butt"/>
<path d="M266.4 494.9L1517.0 494.9" stroke="#000" stroke-width="5.1" stroke-dasharray="15.6 5.45" stroke-dashoffset="0" fill="none"/>
<path d="M275.5 757.5L1380.0 757.5" stroke="#000" stroke-width="5.1" stroke-dasharray="15.6 5.45" stroke-dashoffset="0" fill="none"/>
<path d="M277.0 920.2L1248.0 920.2" stroke="#000" stroke-width="5.1" stroke-dasharray="15.6 5.45" stroke-dashoffset="0" fill="none"/>
<path d="M265.8 1122.9L1612.5 1120.2" stroke="#000" stroke-width="5.1" stroke-dasharray="15.6 5.45" stroke-dashoffset="0" fill="none"/>
<path d="M271.7 1179.6L983.5 1179.6" stroke="#000" stroke-width="5.2" stroke-dasharray="20.8 16" stroke-dashoffset="0" fill="none"/>
<path d="M300.2 305.8L654.2 305.8" stroke="#ff0000" stroke-width="5.1" stroke-dasharray="15.8 5.3" stroke-dashoffset="0" fill="none"/>
<path d="M272.1 1303.0L1518.0 1300.7" stroke="#ff0000" stroke-width="5.1" stroke-dasharray="15.8 5.3" stroke-dashoffset="0" fill="none"/>
<path d="M282.8 1426.6L1625.0 1426.6" stroke="#ff0000" stroke-width="5.1" stroke-dasharray="15.8 5.3" stroke-dashoffset="0" fill="none"/>
<path d="M1515.6 513.7L1515.6 1281.7" stroke="#000" stroke-width="3.0" stroke-dasharray="7.9 2.7" fill="none"/>
<path d="M1515.6 494.9L1505.3 515.7L1515.6 515.7L1525.9 515.7Z" fill="#000"/>
<path d="M1515.6 1300.5L1505.3 1279.7L1515.6 1279.7L1525.9 1279.7Z" fill="#000"/>
<path d="M1372.3 772.8L1379.9 1282.2" stroke="#000" stroke-width="3.0" stroke-dasharray="7.9 2.7" fill="none"/>
<path d="M1372.3 754.0L1362.0 774.8L1372.3 774.8L1382.6 774.8Z" fill="#000"/>
<path d="M1379.9 1301.0L1369.6 1280.2L1379.9 1280.2L1390.2 1280.2Z" fill="#000"/>
<path d="M1238.8 939.1L1238.8 1281.0" stroke="#000" stroke-width="3.0" stroke-dasharray="7.9 2.7" fill="none"/>
<path d="M1238.8 920.3L1228.5 941.1L1238.8 941.1L1249.1 941.1Z" fill="#000"/>
<path d="M1238.8 1299.8L1228.5 1279.0L1238.8 1279.0L1249.1 1279.0Z" fill="#000"/>
<path d="M979.5 1204.3L979.5 1282.9" stroke="#000" stroke-width="3.0" stroke-dasharray="7.9 2.7" fill="none"/>
<path d="M979.5 1185.5L969.2 1206.3L979.5 1206.3L989.8 1206.3Z" fill="#000"/>
<path d="M979.5 1301.7L969.2 1280.9L979.5 1280.9L989.8 1280.9Z" fill="#000"/>
<path d="M1613.8 1137.8L1613.8 1404.5" stroke="#000" stroke-width="3.0" stroke-dasharray="7.9 2.7" fill="none"/>
<path d="M1613.8 1119.0L1603.5 1139.8L1613.8 1139.8L1624.1 1139.8Z" fill="#000"/>
<path d="M1613.8 1423.3L1603.5 1402.5L1613.8 1402.5L1624.1 1402.5Z" fill="#000"/>
<circle cx="275.3" cy="306.0" r="18.5" fill="#ff0000"/>
<circle cx="275.1" cy="1426.7" r="18.5" fill="#ff0000"/>
<text class="ann" x="321.0" y="371.5">Start point</text>
<text class="ann" x="343.0" y="1538.0">End point</text>
<text class="ann" x="851.5" y="1373.8">Ground elevation (centroid)</text>
<text class="ann" transform="translate(1523.8 524.0) rotate(90)">TH95</text>
<text class="ann" transform="translate(1385.2 778.6) rotate(90)">TH75</text>
<text class="ann" transform="translate(1248.2 953.6) rotate(90)">TH50</text>
<text class="ann" transform="translate(1008.3 1159.0) rotate(90)">TH25</text>
<text class="ann" transform="translate(1644.8 1109.0) rotate(90)">Ground extent</text>
<rect x="1358.4" y="113.6" width="588.9" height="143.0" fill="#fff" stroke="#7d7d7d" stroke-width="3.2"/>
<path d="M1373.5 151.6H1475.0" stroke="#00a2ff" stroke-width="8.4" stroke-linecap="round" fill="none"/>
<text class="leg" transform="translate(1487.7 172.0) scale(1 1.04)">Received waveform</text>
<path d="M1373.5 218.6H1475.0" stroke="#ff0000" stroke-width="8.4" stroke-linecap="round" fill="none"/>
<text class="leg" transform="translate(1487.7 239.0) scale(1 1.04)">Resolved TRW</text>
</svg>
</body></html>
